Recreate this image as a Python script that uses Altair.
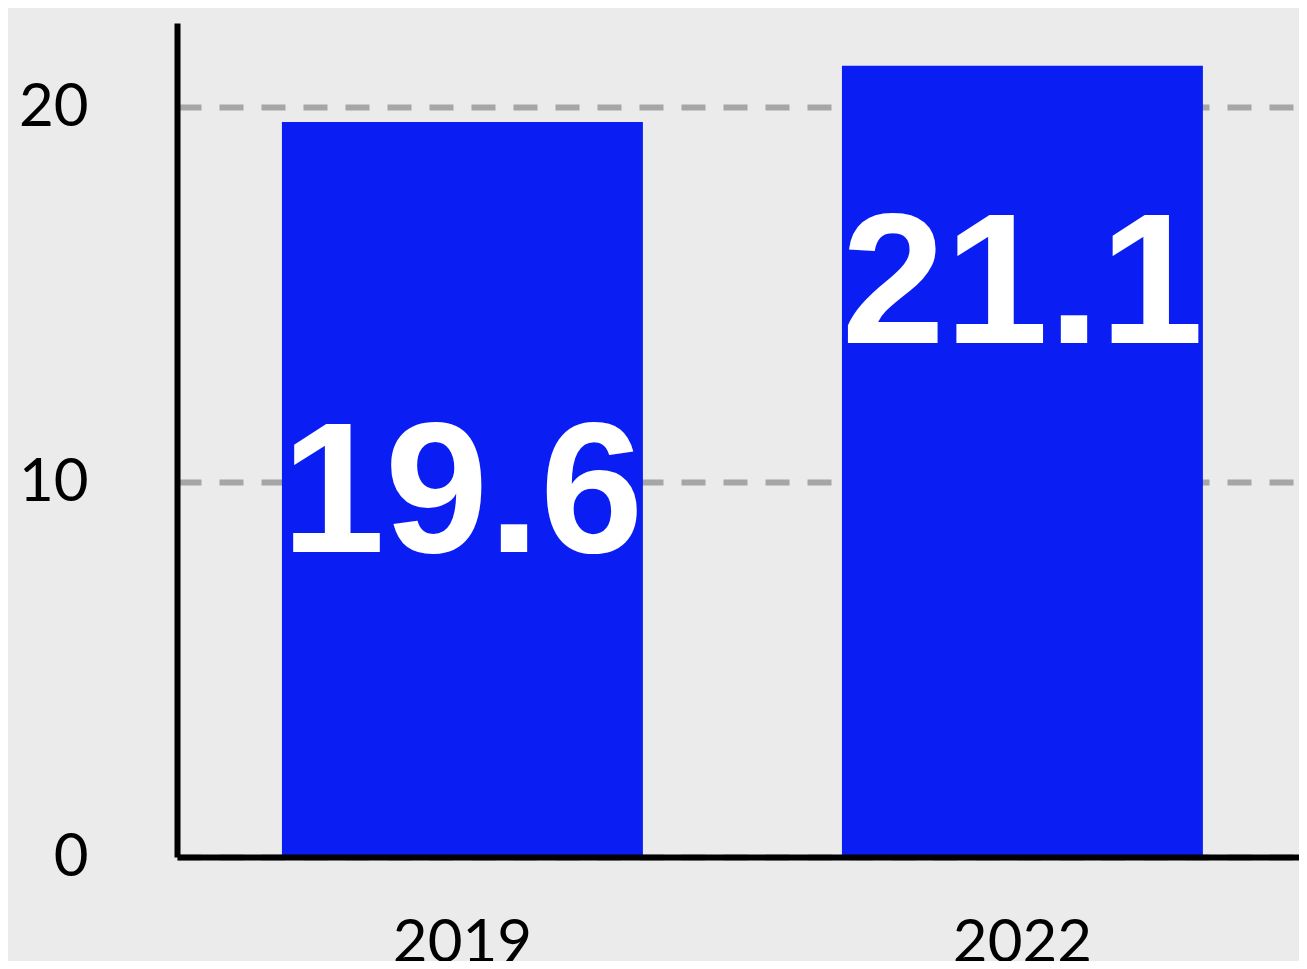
import altair as alt
import pandas as pd

years = ["2019", "2022"]
values = [19.6, 21.1]
labels = ["19.6", "21.1"]
y_ticks = [0, 10, 20]

df = pd.DataFrame({"year": years, "value": values, "label": labels})

x_enc = alt.X(
    "year:N",
    sort=years,
    scale=alt.Scale(paddingInner=0.3554, paddingOuter=0.1795, align=0.522),
    axis=alt.Axis(
        title=None, labelAngle=0, labelFont="Lato", labelFontSize=60,
        labelColor="black", labelPadding=57, ticks=False, tickSize=0,
        domainColor="black", domainWidth=6, grid=False, zindex=1,
    ),
)
y_enc = alt.Y(
    "value:Q",
    scale=alt.Scale(domain=[0, 22.24], nice=False, zero=True),
    axis=alt.Axis(
        title=None, values=y_ticks, labelFont="Lato", labelFontSize=60,
        labelColor="black", labelPadding=89, ticks=False, tickSize=0,
        domainColor="black", domainWidth=6, grid=True, gridColor="#a6a6a6",
        gridWidth=6, gridDash=[24, 18], zindex=0,
    ),
)

base = alt.Chart(df)
bars = base.mark_bar(color="#0a1ef4").encode(x=x_enc, y=y_enc)

text_style = dict(
    font="'Noto Sans ExtraCondensed', 'Noto Sans Condensed', 'Liberation Sans', sans-serif",
    fontWeight=900, fontSize=186,
    color="white", baseline="alphabetic", align="center",
)
t1 = base.transform_filter(alt.datum.year == "2019").mark_text(dy=430, **text_style).encode(
    x=x_enc, y=y_enc, text="label:N"
)
t2 = base.transform_filter(alt.datum.year == "2022").mark_text(dy=277, **text_style).encode(
    x=x_enc, y=y_enc, text="label:N"
)

chart = (
    alt.layer(bars, t1, t2)
    .properties(
        width=1122, height=834,
        autosize=alt.AutoSizeParams(type="none"),
        padding={"left": 169, "top": 15, "right": 0, "bottom": 104},
        background="#ebebeb",
    )
    .configure_view(stroke=None)
)

chart.save("out.html", embed_options={"renderer": "svg", "actions": False})
